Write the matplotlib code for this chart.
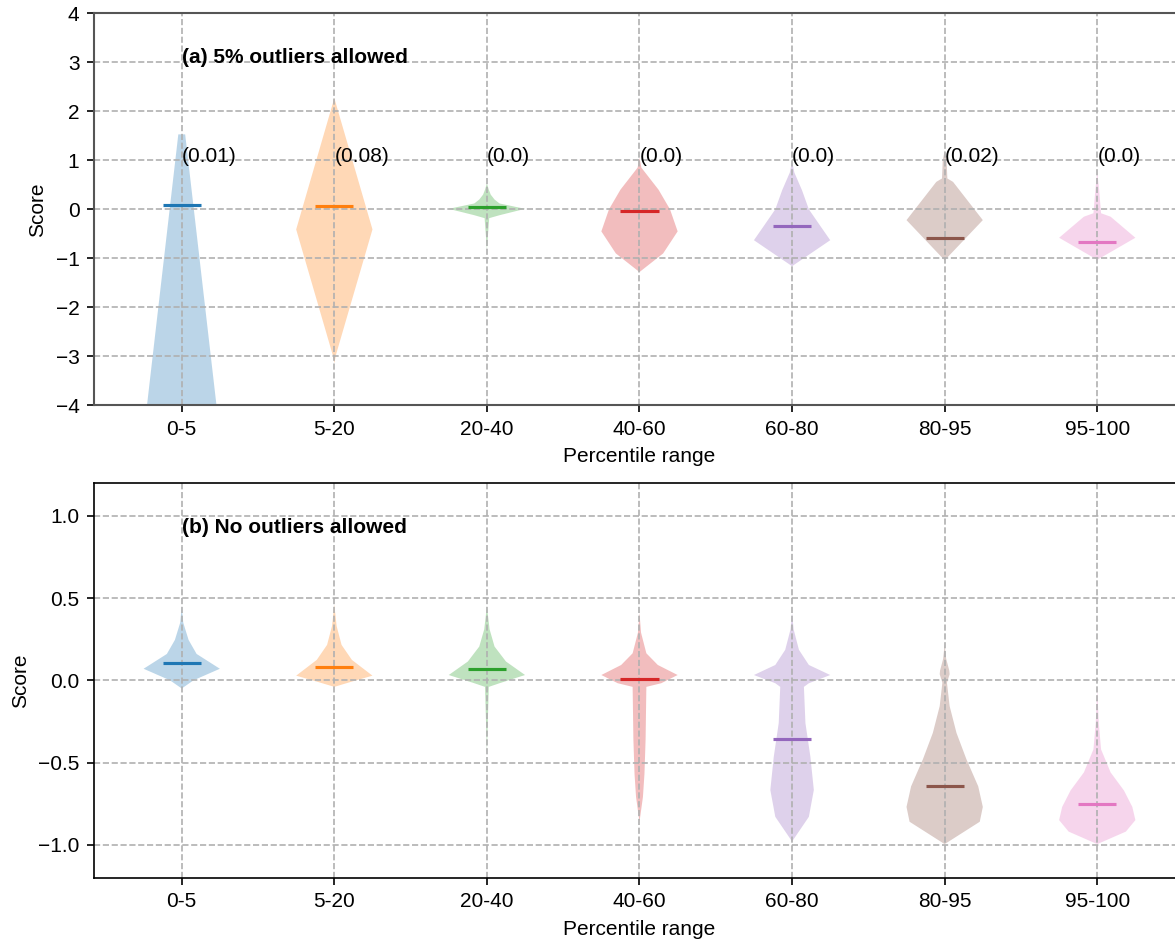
import matplotlib
matplotlib.use("Agg")
import matplotlib.pyplot as plt

plt.rcParams['font.family'] = ['Liberation Sans', 'DejaVu Sans']

categories = ['0-5', '5-20', '20-40', '40-60', '60-80', '80-95', '95-100']
p_labels = ['(0.01)', '(0.08)', '(0.0)', '(0.0)', '(0.0)', '(0.02)', '(0.0)']

# panel (a): 5% outliers allowed -- score grid and relative density per range
coords_a = [
    [-9.0, -4.6, 1.53],
    [-3.14, -2.95, -0.41, 2.27],
    [-0.83, -0.5, -0.18, -0.12, 0.01, 0.12, 0.2, 0.3, 0.4, 0.53],
    [-1.28, -0.9, -0.45, 0.0, 0.4, 0.75, 0.85, 1.05],
    [-1.16, -0.63, -0.35, 0.0, 0.39, 0.75, 0.97],
    [-1.04, -0.22, 0.56, 0.63, 1.0, 1.2],
    [-1.03, -0.58, -0.15, -0.08, 0.39, 0.77],
]
dens_a = [
    [0.35, 1.0, 0.09],
    [0.0, 0.05, 1.0, 0.0],
    [0.0, 0.03, 0.06, 0.33, 1.0, 0.33, 0.2, 0.1, 0.05, 0.0],
    [0.0, 0.62, 1.0, 0.8, 0.5, 0.15, 0.05, 0.0],
    [0.0, 1.0, 0.75, 0.44, 0.26, 0.06, 0.0],
    [0.0, 1.0, 0.22, 0.07, 0.05, 0.0],
    [0.0, 1.0, 0.35, 0.1, 0.05, 0.0],
]
medians_a = [0.09, 0.07, 0.05, -0.03, -0.33, -0.59, -0.66]

# panel (b): no outliers allowed
coords_b = [
    [-0.05, 0.0, 0.07, 0.16, 0.245, 0.35, 0.45],
    [-0.04, -0.008, 0.028, 0.124, 0.215, 0.33, 0.46],
    [-0.44, -0.2, -0.04, -0.018, 0.032, 0.114, 0.205, 0.31, 0.45],
    [-0.86, -0.71, -0.57, -0.36, -0.04, -0.018, 0.032, 0.093, 0.164, 0.29, 0.41],
    [-0.98, -0.83, -0.667, -0.465, -0.26, -0.04, -0.018, 0.032, 0.093, 0.185, 0.31, 0.41],
    [-0.996, -0.86, -0.77, -0.645, -0.48, -0.32, -0.157, -0.015, 0.037, 0.06, 0.13, 0.22],
    [-0.996, -0.92, -0.85, -0.77, -0.67, -0.56, -0.42, -0.26, -0.055],
]
dens_b = [
    [0.0, 0.31, 1.0, 0.39, 0.18, 0.04, 0.0],
    [0.0, 0.46, 1.0, 0.46, 0.19, 0.06, 0.0],
    [0.0, 0.03, 0.05, 0.33, 1.0, 0.5, 0.2, 0.07, 0.0],
    [0.0, 0.09, 0.13, 0.16, 0.18, 0.57, 1.0, 0.48, 0.18, 0.04, 0.0],
    [0.0, 0.44, 0.57, 0.48, 0.35, 0.31, 0.44, 1.0, 0.44, 0.18, 0.04, 0.0],
    [0.0, 0.92, 1.0, 0.88, 0.57, 0.31, 0.13, 0.06, 0.13, 0.12, 0.04, 0.0],
    [0.0, 0.75, 1.0, 0.92, 0.7, 0.35, 0.1, 0.04, 0.0],
]
medians_b = [0.103, 0.081, 0.069, 0.008, -0.359, -0.64, -0.75]

colors = ['C%d' % i for i in range(len(categories))]
positions = list(range(1, len(categories) + 1))


def build_stats(coords, dens, medians):
    stats = []
    for c, d, m in zip(coords, dens, medians):
        stats.append({'coords': c, 'vals': d, 'mean': m, 'median': m,
                      'min': min(c), 'max': max(c)})
    return stats


def draw_panel(ax, coords, dens, medians):
    parts = ax.violin(build_stats(coords, dens, medians), positions=positions,
                      widths=0.5, showmeans=False, showextrema=False,
                      showmedians=True)
    for body, col in zip(parts['bodies'], colors):
        body.set_facecolor(col)
        body.set_edgecolor('none')
        body.set_alpha(0.3)
    parts['cmedians'].set_color(colors)
    ax.set_xticks(positions)
    ax.set_xticklabels(categories)
    ax.set_xlim(0.425, 7.575)
    ax.set_xlabel('Percentile range')
    ax.set_ylabel('Score')
    ax.grid(True, linestyle='--')


fig = plt.figure(figsize=(1175 / 150, 940 / 150), dpi=150)
ax1 = fig.add_axes([0.08, 0.5688, 0.9285, 0.417])
ax2 = fig.add_axes([0.08, 0.0663, 0.9285, 0.42])

draw_panel(ax1, coords_a, dens_a, medians_a)
ax1.set_ylim(-4, 4)
for pos, lab in zip(positions, p_labels):
    ax1.text(pos, 0.96, lab)
ax1.text(1, 0.873, '(a) 5% outliers allowed', fontweight='bold',
         transform=ax1.get_xaxis_transform())
for sp in ax1.spines.values():
    sp.set_color('#555555')
    sp.set_linewidth(1.0)

draw_panel(ax2, coords_b, dens_b, medians_b)
ax2.set_ylim(-1.2, 1.2)
ax2.set_yticks([-1.0, -0.5, 0.0, 0.5, 1.0])
ax2.text(1, 0.873, '(b) No outliers allowed', fontweight='bold',
         transform=ax2.get_xaxis_transform())

fig.savefig('out.png', dpi=150)
